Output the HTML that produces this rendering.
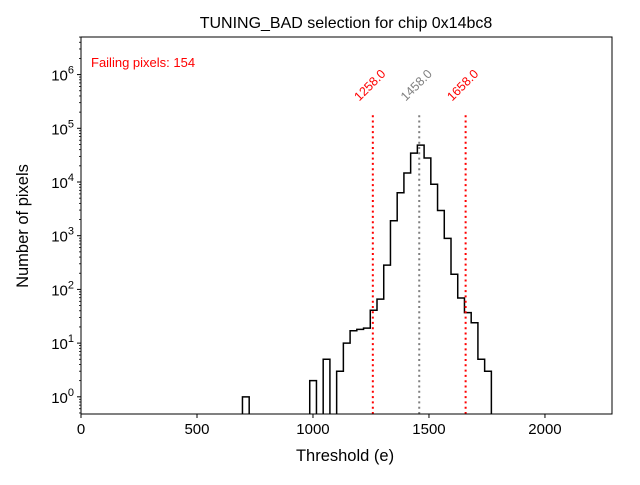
<!DOCTYPE html>
<html><head><meta charset="utf-8"><style>
body{margin:0;background:#fff}
svg{font-family:"Liberation Sans","DejaVu Sans",sans-serif}
</style></head><body>
<svg id="chart" width="640" height="480" viewBox="0 0 640 480">
<text x="346" y="28" font-size="16" text-anchor="middle">TUNING_BAD selection for chip 0x14bc8</text>
<text x="91" y="67" font-size="13" fill="red">Failing pixels: 154</text>
<text x="345" y="461" font-size="16.5" text-anchor="middle">Threshold (e)</text>
<text transform="translate(28,226) rotate(-90)" font-size="16.5" text-anchor="middle">Number of pixels</text>
</svg>
<script>
const binLefts=[696,986,1044,1102,1131,1160,1189,1218,1247,1276,1305,1334,1363,1392,1421,1450,1479,1508,1537,1566,1595,1624,1653,1682,1711,1740];
const counts=[1,2,5,3,10,17,18,19,41,66,284,1900,6300,14700,34500,48600,28000,9100,2950,890,192,69,37,24,5,3];
const binWidth=29;
const xTicks=[0,500,1000,1500,2000];
const yTickExps=[0,1,2,3,4,5,6];
const cutValues=[1258,1458,1658];
const cutColors=['red','grey','red'];
const cutTop=2e5;

const NS='http://www.w3.org/2000/svg';
const svg=document.getElementById('chart');
const L=81,R=612,T=37,B=414,XMAX=2289,YMIN=-0.32,YMAX=6.70;
const xs=v=>L+(v/XMAX)*(R-L);
const ys=v=>v<=0?B:B-((Math.log10(v)-YMIN)/(YMAX-YMIN))*(B-T);
function mk(tag,attrs){const e=document.createElementNS(NS,tag);for(const k in attrs)e.setAttribute(k,attrs[k]);svg.appendChild(e);return e;}

let d='';let prevEnd=null;
binLefts.forEach((x0,i)=>{
  const x1=x0+binWidth,y=ys(counts[i]);
  if(prevEnd===null||Math.abs(prevEnd-x0)>1){
    if(prevEnd!==null)d+=`L${xs(prevEnd)},${B} `;
    d+=`M${xs(x0)},${B} `;
  }
  d+=`L${xs(x0)},${y} L${xs(x1)},${y} `;
  prevEnd=x1;
});
d+=`L${xs(prevEnd)},${B}`;
const hist=mk('path',{d:d,fill:'none',stroke:'#000','stroke-width':1.5});



cutValues.forEach((v,i)=>{
  const ln=mk('line',{x1:xs(v),x2:xs(v),y1:B,y2:ys(cutTop),stroke:cutColors[i],'stroke-width':2,'stroke-dasharray':'2,3.3'});
  
  
  const cy=ys(cutTop)-24;
  const t=mk('text',{x:xs(v),y:cy,'font-size':12.5,fill:cutColors[i],'text-anchor':'middle',transform:`rotate(-45 ${xs(v)} ${cy})`});
  t.textContent=v.toFixed(1);
  
  
});

const frame=mk('rect',{x:L,y:T,width:R-L,height:B-T,fill:'none',stroke:'#000','stroke-width':1});



xTicks.forEach(v=>{
  const tk=mk('line',{x1:xs(v),x2:xs(v),y1:B,y2:B+4,stroke:'#000'});
  
  
  const t=mk('text',{x:xs(v),y:B+20,'font-size':15,'text-anchor':'middle'});
  t.textContent=v;
  
  
});
yTickExps.forEach(e=>{
  const y=ys(Math.pow(10,e));
  const tk=mk('line',{x1:L-4,x2:L,y1:y,y2:y,stroke:'#000'});
  
  
  const t=mk('text',{x:L-7,y:y+6,'font-size':15,'text-anchor':'end'});
  t.innerHTML='10<tspan dy="-7" font-size="11">'+e+'</tspan>';
  
  
});
for(let e=-1;e<=6;e++){for(let m=2;m<=9;m++){
  const v=m*Math.pow(10,e),y=ys(v);
  if(y<T||y>B)continue;
  const tk=mk('line',{x1:L-2,x2:L,y1:y,y2:y,stroke:'#000','stroke-width':0.8});
  
  
}}
</script>
</body></html>
